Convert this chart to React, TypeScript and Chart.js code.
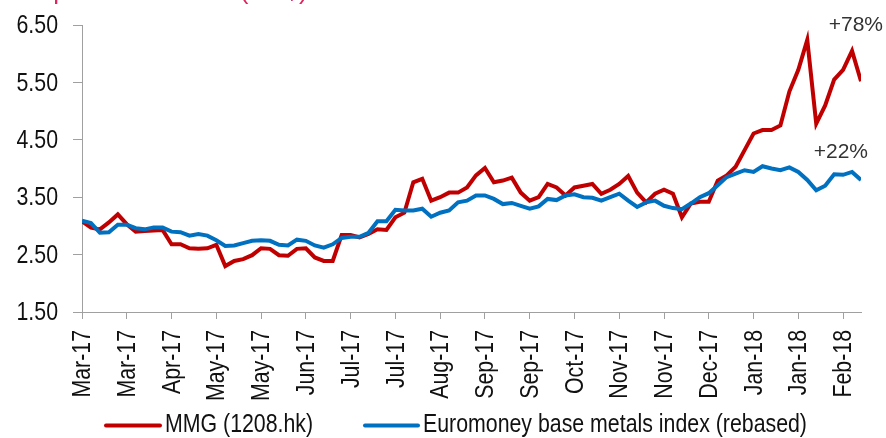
import React, { useEffect, useRef } from "react";
import { Chart, registerables } from "chart.js";

Chart.register(...registerables);

// Tick labels, one every 5 observations (3 weeks)
const tickLabels = [
  "Mar-17", "Mar-17", "Apr-17", "May-17", "May-17", "Jun-17", "Jul-17", "Jul-17", "Aug-17",
  "Sep-17", "Sep-17", "Oct-17", "Nov-17", "Nov-17", "Dec-17", "Jan-18", "Jan-18", "Feb-18",
];
const tickStep = 5;

// MMG (1208.hk), HK$
const mmg = [
  3.08, 2.97, 2.94, 3.06, 3.20, 3.03, 2.90, 2.91, 2.92, 2.93,
  2.68, 2.68, 2.61, 2.60, 2.61, 2.67, 2.30, 2.39, 2.42, 2.49,
  2.61, 2.60, 2.49, 2.48, 2.60, 2.61, 2.45, 2.39, 2.39, 2.84,
  2.84, 2.80, 2.86, 2.94, 2.93, 3.15, 3.23, 3.76, 3.82, 3.44,
  3.50, 3.58, 3.58, 3.67, 3.88, 4.01, 3.76, 3.79, 3.84, 3.58,
  3.44, 3.50, 3.73, 3.67, 3.53, 3.67, 3.70, 3.73, 3.56, 3.63,
  3.73, 3.87, 3.58, 3.41, 3.56, 3.63, 3.56, 3.15, 3.39, 3.42,
  3.42, 3.79, 3.88, 4.03, 4.32, 4.61, 4.67, 4.67, 4.75, 5.34,
  5.72, 6.24, 4.78, 5.10, 5.55, 5.72, 6.05, 5.52,
];

// Euromoney base metals index (rebased)
const euromoney = [
  3.09, 3.05, 2.88, 2.89, 3.02, 3.02, 2.96, 2.94, 2.97, 2.97,
  2.90, 2.89, 2.83, 2.86, 2.83, 2.75, 2.65, 2.66, 2.70, 2.74,
  2.75, 2.74, 2.67, 2.66, 2.76, 2.74, 2.66, 2.62, 2.68, 2.79,
  2.81, 2.81, 2.88, 3.08, 3.08, 3.28, 3.27, 3.27, 3.30, 3.16,
  3.23, 3.27, 3.41, 3.44, 3.53, 3.53, 3.47, 3.38, 3.40, 3.35,
  3.30, 3.34, 3.47, 3.45, 3.53, 3.55, 3.50, 3.49, 3.44, 3.50,
  3.56, 3.44, 3.33, 3.41, 3.44, 3.35, 3.31, 3.29, 3.39, 3.50,
  3.57, 3.71, 3.85, 3.91, 3.97, 3.94, 4.04, 4.00, 3.97, 4.02,
  3.94, 3.80, 3.62, 3.70, 3.90, 3.89, 3.94, 3.80,
];

const yTicks = [1.5, 2.5, 3.5, 4.5, 5.5, 6.5];

const REG = "'Liberation Sans', Arial, sans-serif";
const NARROW_SCALE = 0.82; // Arial Narrow look: horizontally compressed Arial
const RED = "#C00000";
const BLUE = "#0070C0";
const AXIS = "#a0a0a0";
const TEXT = "#111111";

export default function App() {
  const ref = useRef<HTMLCanvasElement | null>(null);

  useEffect(() => {
    if (!ref.current) return;

    const narrowText = (
      c: CanvasRenderingContext2D,
      text: string,
      x: number,
      y: number,
      align: CanvasTextAlign,
      rotate = 0
    ) => {
      c.save();
      c.translate(x, y);
      if (rotate) c.rotate(rotate);
      c.scale(NARROW_SCALE, 1);
      c.textAlign = align;
      c.textBaseline = "middle";
      c.fillText(text, 0, 0);
      c.restore();
    };

    const overlay = {
      id: "overlay",
      afterDraw(chart: any) {
        const c = chart.ctx as CanvasRenderingContext2D;
        const { chartArea, scales } = chart;
        c.save();
        // clipped title at the top
        c.font = `26px ${REG}`;
        c.fillStyle = "#E0245E";
        c.textAlign = "left";
        c.textBaseline = "alphabetic";
        c.fillText("Exposure to MMG (HK$)", 23, -1);

        // axis tick labels (narrow)
        c.font = `26px ${REG}`;
        c.fillStyle = TEXT;
        yTicks.forEach((v) => {
          narrowText(c, v.toFixed(2), 58, scales.y.getPixelForValue(v) + 1, "right");
        });
        tickLabels.forEach((lab, i) => {
          const x = scales.x.getPixelForValue(i * tickStep);
          narrowText(c, lab, x + 1, chartArea.bottom + 18, "right", -Math.PI / 2);
        });

        // end annotations
        c.font = `21px ${REG}`;
        c.fillStyle = "#333333";
        c.textAlign = "right";
        c.textBaseline = "middle";
        c.fillText("+78%", chartArea.right + 22, scales.y.getPixelForValue(6.5));
        c.fillText("+22%", chartArea.right + 7, scales.y.getPixelForValue(4.28));

        // legend
        const items = [
          { ds: chart.data.datasets[0], x0: 106, x1: 160 },
          { ds: chart.data.datasets[1], x0: 365, x1: 418 },
        ];
        const ly = 425.5;
        c.font = `26px ${REG}`;
        items.forEach((it) => {
          c.strokeStyle = it.ds.borderColor;
          c.lineWidth = 4;
          c.lineCap = "round";
          c.beginPath();
          c.moveTo(it.x0, ly);
          c.lineTo(it.x1, ly);
          c.stroke();
          c.fillStyle = TEXT;
          narrowText(c, it.ds.label, it.x1 + 5, ly - 1, "left");
        });
        c.restore();
      },
    };

    const chart = new Chart(ref.current, {
      type: "line",
      data: {
        datasets: [
          {
            label: "MMG (1208.hk)",
            data: mmg.map((v, i) => ({ x: i, y: v })),
            borderColor: RED,
            backgroundColor: RED,
            borderWidth: 4,
            pointRadius: 0,
            tension: 0,
            order: 2,
          },
          {
            label: "Euromoney base metals index (rebased)",
            data: euromoney.map((v, i) => ({ x: i, y: v })),
            borderColor: BLUE,
            backgroundColor: BLUE,
            borderWidth: 4,
            pointRadius: 0,
            tension: 0,
            order: 1,
          },
        ],
      },
      options: {
        responsive: false,
        animation: false,
        devicePixelRatio: 1,
        layout: { padding: { left: 0, right: 25, top: 25, bottom: 0 } },
        plugins: {
          legend: { display: false },
          tooltip: { enabled: false },
          title: { display: false },
        },
        scales: {
          x: {
            type: "linear",
            min: 0,
            max: mmg.length - 1,
            afterBuildTicks: (scale: any) => {
              scale.ticks = tickLabels.map((_, i) => ({ value: i * tickStep }));
            },
            afterFit: (scale: any) => {
              scale.height = 126;
            },
            grid: {
              drawOnChartArea: false,
              drawTicks: true,
              tickLength: 7,
              color: AXIS,
              lineWidth: 1,
            },
            border: { color: AXIS, width: 1 },
            ticks: { display: false, autoSkip: false },
          },
          y: {
            type: "linear",
            min: 1.5,
            max: 6.5,
            afterBuildTicks: (scale: any) => {
              scale.ticks = yTicks.map((v) => ({ value: v }));
            },
            afterFit: (scale: any) => {
              scale.width = 82;
            },
            grid: {
              drawOnChartArea: false,
              drawTicks: true,
              tickLength: 9,
              color: AXIS,
              lineWidth: 1,
            },
            border: { color: AXIS, width: 1 },
            ticks: { display: false },
          },
        },
      },
      plugins: [overlay],
    } as any);

    return () => chart.destroy();
  }, []);

  return (
    <div style={{ position: "absolute", left: 0, top: 0, width: 886, height: 438, background: "#ffffff" }}>
      <canvas ref={ref} width={886} height={438} />
    </div>
  );
}
